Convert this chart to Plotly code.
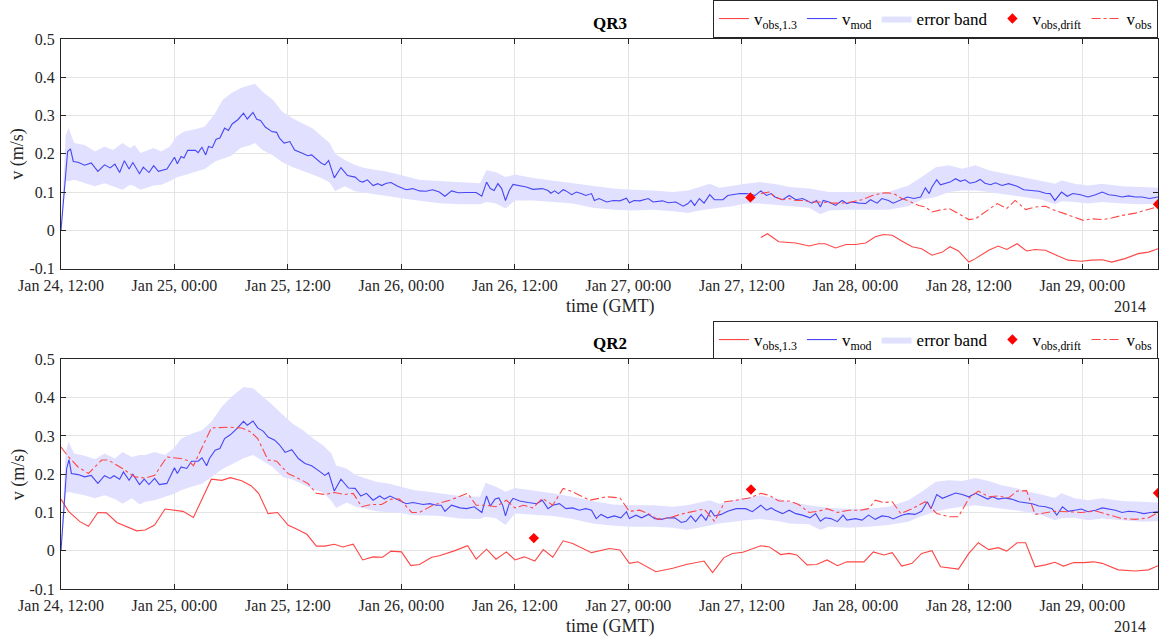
import plotly.graph_objects as go
import pandas as pd

# ---------------- data (hours after 2014-01-24 12:00 GMT, value in m/s) ----------------
START = "2014-01-24 12:00"
END_H = 116.0

QR3_MOD = [(0, 0), (0.7, 0.206), (1.0, 0.213), (1.3, 0.18), (1.8, 0.178), (2.5, 0.17), (3.2, 0.176), (3.9, 0.154),
           (4.6, 0.171), (5.2, 0.163), (5.7, 0.173), (6.2, 0.151), (6.7, 0.182), (7.2, 0.16), (7.6, 0.177), (8.3, 0.148),
           (8.7, 0.165), (9.3, 0.151), (9.8, 0.169), (10.3, 0.154), (11.2, 0.16), (12.0, 0.191), (12.3, 0.174),
           (12.7, 0.193), (13.0, 0.189), (13.4, 0.209), (14.2, 0.209), (14.5, 0.203), (14.9, 0.217), (15.3, 0.197),
           (15.6, 0.219), (16.0, 0.216), (16.4, 0.238), (16.8, 0.241), (17.3, 0.267), (17.7, 0.261), (18.1, 0.278),
           (18.7, 0.289), (19.3, 0.306), (19.7, 0.291), (20.3, 0.308), (20.7, 0.29), (21.1, 0.287), (21.6, 0.27),
           (22.3, 0.258), (22.8, 0.256), (23.1, 0.241), (23.6, 0.228), (24.2, 0.232), (24.7, 0.21), (25.4, 0.203),
           (26.1, 0.195), (26.5, 0.197), (27.0, 0.186), (27.5, 0.176), (27.9, 0.171), (28.3, 0.182), (28.9, 0.137),
           (29.6, 0.164), (30.3, 0.143), (31.1, 0.139), (31.6, 0.128), (31.9, 0.126), (32.4, 0.132), (33.0, 0.117),
           (33.5, 0.122), (33.9, 0.117), (34.4, 0.123), (34.9, 0.125), (35.6, 0.115), (36.5, 0.106), (37.2, 0.109),
           (37.9, 0.103), (38.6, 0.102), (39.3, 0.106), (40.0, 0.1), (40.6, 0.089), (41.3, 0.103), (42.0, 0.098),
           (42.9, 0.099), (43.9, 0.099), (44.5, 0.089), (45.0, 0.126), (45.4, 0.109), (45.8, 0.104), (46.2, 0.122),
           (46.6, 0.109), (47.0, 0.078), (47.4, 0.104), (47.8, 0.12), (48.5, 0.117), (49.2, 0.113), (49.9, 0.107),
           (50.9, 0.109), (51.5, 0.104), (51.8, 0.097), (52.2, 0.103), (52.6, 0.096), (53.1, 0.106), (53.4, 0.103),
           (54.0, 0.093), (54.5, 0.1), (55.0, 0.096), (55.5, 0.091), (56.1, 0.096), (56.4, 0.078), (56.9, 0.083),
           (57.7, 0.074), (58.4, 0.078), (59.1, 0.077), (59.8, 0.084), (60.1, 0.072), (60.6, 0.078), (61.2, 0.077),
           (62.1, 0.083), (62.6, 0.074), (63.6, 0.077), (64.2, 0.072), (65.0, 0.074), (65.8, 0.063), (66.3, 0.07),
           (66.6, 0.078), (67.0, 0.065), (67.5, 0.083), (68.0, 0.071), (68.6, 0.093), (69.1, 0.08), (70.0, 0.08),
           (70.5, 0.091), (71.0, 0.093), (71.8, 0.096), (72.5, 0.096), (73.4, 0.091), (74.0, 0.103), (74.6, 0.091),
           (75.1, 0.096), (75.5, 0.087), (76.3, 0.08), (77.0, 0.091), (77.7, 0.08), (78.4, 0.083), (78.9, 0.077),
           (79.4, 0.071), (79.9, 0.078), (80.3, 0.061), (80.6, 0.078), (81.2, 0.074), (81.9, 0.065), (82.6, 0.078),
           (83.1, 0.07), (83.6, 0.074), (84.4, 0.071), (85.1, 0.07), (85.6, 0.08), (86.3, 0.071), (86.8, 0.083),
           (87.5, 0.078), (88.0, 0.071), (88.8, 0.08), (89.5, 0.087), (90.2, 0.083), (90.9, 0.087), (91.4, 0.111),
           (91.8, 0.096), (92.1, 0.113), (92.6, 0.132), (93.0, 0.119), (93.5, 0.123), (94.0, 0.126), (94.6, 0.135),
           (95.1, 0.128), (95.6, 0.132), (96.1, 0.123), (96.7, 0.126), (97.2, 0.133), (97.7, 0.123), (98.3, 0.119),
           (98.8, 0.124), (99.5, 0.117), (100.2, 0.122), (101.1, 0.115), (101.8, 0.106), (102.5, 0.104),
           (103.4, 0.102), (104.1, 0.097), (104.6, 0.096), (105.1, 0.078), (105.8, 0.1), (106.4, 0.089),
           (107.0, 0.096), (107.8, 0.093), (108.6, 0.087), (109.4, 0.093), (110.1, 0.1), (110.8, 0.093),
           (111.5, 0.091), (112.2, 0.087), (112.9, 0.09), (113.6, 0.087), (114.3, 0.087), (115.1, 0.083), (116.0, 0.087)]

# error band: (hour, lower, upper)
QR3_BAND = [(0, 0, 0), (0.5, 0.13, 0.25), (0.8, 0.128, 0.267), (1.4, 0.132, 0.228), (2.5, 0.123, 0.223),
            (3.6, 0.115, 0.206), (4.6, 0.123, 0.219), (5.5, 0.115, 0.21), (6.5, 0.106, 0.228), (7.3, 0.119, 0.215),
            (7.8, 0.115, 0.223), (8.4, 0.106, 0.202), (9.8, 0.117, 0.215), (10.6, 0.119, 0.206), (11.5, 0.128, 0.219),
            (12.2, 0.138, 0.245), (13.0, 0.143, 0.258), (14.2, 0.152, 0.264), (15.2, 0.16, 0.271), (16.3, 0.18, 0.306),
            (17.1, 0.188, 0.341), (18.0, 0.195, 0.358), (19.0, 0.215, 0.372), (20.0, 0.222, 0.38), (20.5, 0.228, 0.383),
            (21.3, 0.21, 0.363), (22.4, 0.196, 0.341), (23.4, 0.178, 0.31), (24.5, 0.165, 0.293), (25.5, 0.155, 0.28),
            (26.6, 0.146, 0.267), (27.6, 0.136, 0.245), (28.4, 0.125, 0.228), (29.0, 0.102, 0.2), (30.0, 0.115, 0.184),
            (31.1, 0.102, 0.171), (32.1, 0.097, 0.163), (33.2, 0.093, 0.158), (34.4, 0.09, 0.154), (35.5, 0.086, 0.147),
            (36.5, 0.082, 0.14), (37.9, 0.077, 0.132), (40.0, 0.071, 0.129), (42.2, 0.068, 0.126), (44.3, 0.068, 0.123),
            (45.0, 0.074, 0.157), (46.0, 0.07, 0.152), (47.0, 0.057, 0.139), (48.0, 0.078, 0.146), (49.9, 0.078, 0.137),
            (52.0, 0.074, 0.13), (54.1, 0.07, 0.122), (56.2, 0.059, 0.115), (58.4, 0.054, 0.109), (60.5, 0.052, 0.106),
            (62.6, 0.054, 0.104), (64.7, 0.05, 0.1), (66.3, 0.045, 0.104), (67.5, 0.052, 0.113), (68.6, 0.056, 0.122),
            (69.6, 0.059, 0.111), (71.0, 0.063, 0.117), (72.4, 0.07, 0.122), (73.9, 0.07, 0.126), (75.8, 0.065, 0.12),
            (77.0, 0.063, 0.113), (79.1, 0.059, 0.109), (80.3, 0.042, 0.104), (81.2, 0.052, 0.1), (83.3, 0.054, 0.1),
            (85.4, 0.054, 0.097), (87.5, 0.054, 0.1), (89.6, 0.063, 0.117), (91.0, 0.08, 0.139), (92.5, 0.087, 0.165),
            (93.9, 0.1, 0.17), (95.3, 0.104, 0.161), (96.7, 0.104, 0.17), (98.1, 0.1, 0.157), (99.5, 0.096, 0.15),
            (100.9, 0.091, 0.143), (102.3, 0.085, 0.135), (103.7, 0.08, 0.13), (105.1, 0.068, 0.122),
            (105.8, 0.076, 0.13), (107.2, 0.074, 0.122), (108.6, 0.07, 0.117), (110.1, 0.074, 0.122),
            (112.2, 0.07, 0.115), (114.3, 0.068, 0.113), (116.0, 0.07, 0.111)]

QR3_OBS = [(74.0, 0.096), (74.9, 0.1), (75.5, 0.087), (76.3, 0.08), (77.0, 0.083), (77.7, 0.078), (78.4, 0.078),
           (79.4, 0.074), (80.5, 0.074), (81.5, 0.071), (82.6, 0.071), (83.6, 0.074), (84.7, 0.08), (85.8, 0.091),
           (86.8, 0.097), (87.5, 0.098), (88.2, 0.094), (88.9, 0.083), (89.6, 0.077), (90.7, 0.065), (91.4, 0.061),
           (92.1, 0.048), (92.8, 0.052), (93.9, 0.057), (94.6, 0.048), (95.3, 0.039), (96.0, 0.028), (96.7, 0.03),
           (97.7, 0.048), (99.0, 0.07), (100.0, 0.057), (100.9, 0.078), (102.0, 0.054), (103.0, 0.061),
           (104.1, 0.063), (105.1, 0.052), (106.2, 0.043), (107.2, 0.035), (108.1, 0.026), (109.0, 0.03),
           (110.1, 0.028), (111.1, 0.032), (112.2, 0.039), (113.6, 0.045), (115.0, 0.054), (116.0, 0.062)]

QR3_OBS13 = [(74.0, -0.019), (74.7, -0.009), (75.9, -0.03), (77.7, -0.033), (79.1, -0.041), (80.1, -0.035),
             (80.8, -0.035), (81.9, -0.046), (83.0, -0.037), (84.0, -0.037), (85.1, -0.033), (86.1, -0.017),
             (87.0, -0.011), (87.9, -0.013), (88.9, -0.028), (90.0, -0.043), (91.0, -0.048), (92.1, -0.065),
             (93.2, -0.057), (94.0, -0.043), (94.9, -0.054), (96.0, -0.083), (96.7, -0.074), (98.1, -0.052),
             (99.1, -0.041), (100.0, -0.05), (101.1, -0.035), (102.1, -0.054), (103.0, -0.05), (104.1, -0.052),
             (105.5, -0.068), (106.5, -0.078), (107.9, -0.081), (109.0, -0.078), (110.1, -0.077), (111.1, -0.083),
             (112.5, -0.074), (113.9, -0.061), (115.0, -0.057), (116.0, -0.048)]

QR3_DRIFT = [(72.9, 0.086), (116.0, 0.068)]

QR2_MOD = [(0, 0), (0.6, 0.215), (0.85, 0.238), (1.1, 0.202), (1.8, 0.199), (2.5, 0.193), (3.2, 0.197), (3.9, 0.176),
           (4.6, 0.196), (5.2, 0.189), (5.6, 0.196), (6.2, 0.187), (6.6, 0.206), (7.2, 0.184), (7.6, 0.2), (8.3, 0.173),
           (8.8, 0.187), (9.3, 0.173), (9.9, 0.189), (10.4, 0.173), (11.2, 0.176), (12.0, 0.217), (12.3, 0.202),
           (12.7, 0.219), (13.3, 0.215), (13.8, 0.234), (14.5, 0.234), (14.9, 0.243), (15.4, 0.222), (15.7, 0.241),
           (16.3, 0.263), (16.8, 0.267), (17.3, 0.293), (17.9, 0.303), (18.6, 0.319), (19.3, 0.338), (19.7, 0.328),
           (20.3, 0.339), (20.8, 0.321), (21.4, 0.312), (21.9, 0.297), (22.6, 0.289), (23.1, 0.277), (23.7, 0.257),
           (24.4, 0.264), (25.1, 0.241), (25.8, 0.228), (26.5, 0.222), (27.2, 0.21), (27.9, 0.197), (28.3, 0.204),
           (28.9, 0.156), (29.6, 0.187), (30.4, 0.164), (31.1, 0.163), (31.7, 0.143), (32.3, 0.15), (33.0, 0.132),
           (33.7, 0.143), (34.2, 0.135), (34.8, 0.143), (35.5, 0.135), (36.5, 0.123), (37.2, 0.126), (38.3, 0.121),
           (39.0, 0.123), (39.7, 0.119), (40.2, 0.119), (40.6, 0.103), (41.3, 0.119), (42.2, 0.112), (42.9, 0.11),
           (43.7, 0.115), (44.5, 0.1), (45.0, 0.143), (45.4, 0.117), (45.9, 0.135), (46.3, 0.138), (46.7, 0.119),
           (47.0, 0.091), (47.4, 0.123), (47.8, 0.137), (48.5, 0.13), (49.4, 0.126), (50.3, 0.123), (50.9, 0.132),
           (51.5, 0.11), (52.0, 0.119), (52.7, 0.123), (53.4, 0.11), (54.1, 0.112), (54.8, 0.106), (55.5, 0.11),
           (56.1, 0.106), (56.6, 0.084), (57.1, 0.095), (57.8, 0.086), (58.5, 0.091), (59.2, 0.086), (59.8, 0.102),
           (60.1, 0.084), (60.8, 0.093), (61.4, 0.086), (62.1, 0.095), (62.8, 0.084), (63.5, 0.082), (64.2, 0.086),
           (64.9, 0.086), (65.6, 0.074), (66.1, 0.077), (66.6, 0.091), (67.1, 0.076), (67.7, 0.095), (68.2, 0.08),
           (68.7, 0.106), (69.1, 0.091), (69.8, 0.095), (70.5, 0.103), (71.4, 0.11), (72.4, 0.11), (73.1, 0.102),
           (74.0, 0.119), (74.6, 0.106), (75.1, 0.112), (75.5, 0.106), (76.3, 0.097), (77.0, 0.106), (77.7, 0.097),
           (78.4, 0.093), (79.2, 0.086), (79.8, 0.097), (80.3, 0.077), (80.8, 0.086), (81.4, 0.084), (82.1, 0.076),
           (82.7, 0.093), (83.1, 0.08), (84.0, 0.084), (84.7, 0.08), (85.4, 0.093), (86.1, 0.082), (86.8, 0.091),
           (87.5, 0.089), (88.0, 0.083), (88.9, 0.093), (89.6, 0.097), (90.3, 0.095), (91.0, 0.103), (91.6, 0.128),
           (92.0, 0.11), (92.6, 0.147), (93.2, 0.137), (93.9, 0.143), (94.6, 0.151), (95.3, 0.147), (96.0, 0.141),
           (96.7, 0.15), (97.4, 0.143), (98.0, 0.135), (98.5, 0.141), (99.1, 0.135), (99.8, 0.138), (100.5, 0.135),
           (101.3, 0.128), (102.0, 0.126), (102.7, 0.123), (103.4, 0.117), (104.1, 0.115), (104.8, 0.11),
           (105.3, 0.093), (105.9, 0.115), (106.5, 0.103), (107.2, 0.106), (107.9, 0.109), (108.6, 0.102),
           (109.4, 0.106), (110.1, 0.112), (110.8, 0.109), (111.5, 0.106), (112.2, 0.1), (112.9, 0.103),
           (113.6, 0.102), (114.5, 0.097), (115.2, 0.1), (116.0, 0.102)]

QR2_BAND = [(0, 0, 0), (0.5, 0.15, 0.26), (0.8, 0.154, 0.284), (1.4, 0.15, 0.254), (2.5, 0.145, 0.248),
            (3.6, 0.137, 0.239), (4.6, 0.145, 0.254), (5.7, 0.135, 0.241), (6.5, 0.123, 0.258), (7.5, 0.137, 0.245),
            (8.3, 0.121, 0.25), (8.9, 0.128, 0.25), (9.9, 0.132, 0.258), (11.0, 0.14, 0.25), (11.9, 0.148, 0.267),
            (12.7, 0.158, 0.293), (13.8, 0.167, 0.306), (14.9, 0.175, 0.315), (15.9, 0.192, 0.337),
            (17.0, 0.212, 0.376), (18.0, 0.225, 0.402), (19.3, 0.242, 0.428), (20.3, 0.25, 0.425),
            (21.4, 0.234, 0.402), (22.4, 0.218, 0.38), (23.5, 0.192, 0.354), (24.5, 0.186, 0.332),
            (25.6, 0.173, 0.315), (26.7, 0.16, 0.293), (27.7, 0.152, 0.276), (28.6, 0.13, 0.254), (29.1, 0.112, 0.223),
            (30.2, 0.126, 0.215), (31.2, 0.115, 0.197), (32.3, 0.11, 0.189), (33.3, 0.103, 0.18), (34.6, 0.1, 0.176),
            (36.0, 0.098, 0.167), (37.4, 0.093, 0.158), (38.7, 0.092, 0.155), (40.0, 0.091, 0.15), (42.2, 0.084, 0.143),
            (44.3, 0.083, 0.141), (44.9, 0.089, 0.178), (46.0, 0.085, 0.167), (47.0, 0.067, 0.154), (48.0, 0.097, 0.164),
            (49.9, 0.095, 0.158), (52.0, 0.091, 0.15), (54.1, 0.083, 0.141), (56.2, 0.071, 0.13), (58.4, 0.065, 0.121),
            (60.5, 0.063, 0.119), (62.6, 0.063, 0.119), (64.7, 0.06, 0.115), (66.2, 0.054, 0.119), (67.5, 0.06, 0.125),
            (68.6, 0.066, 0.132), (69.6, 0.071, 0.123), (71.0, 0.076, 0.132), (72.4, 0.08, 0.138), (73.9, 0.083, 0.145),
            (75.8, 0.078, 0.136), (77.0, 0.071, 0.128), (79.1, 0.069, 0.119), (80.3, 0.054, 0.115), (81.2, 0.063, 0.112),
            (83.3, 0.06, 0.11), (85.4, 0.063, 0.11), (87.5, 0.067, 0.115), (89.6, 0.076, 0.132), (91.0, 0.091, 0.154),
            (92.5, 0.102, 0.18), (93.9, 0.11, 0.184), (95.3, 0.115, 0.182), (96.7, 0.119, 0.19), (98.1, 0.115, 0.182),
            (99.5, 0.11, 0.171), (100.9, 0.106, 0.164), (102.3, 0.1, 0.154), (103.7, 0.093, 0.147),
            (105.1, 0.08, 0.138), (105.8, 0.085, 0.15), (107.2, 0.086, 0.137), (108.6, 0.08, 0.132),
            (110.1, 0.084, 0.137), (112.2, 0.08, 0.13), (114.3, 0.076, 0.128), (116.0, 0.077, 0.126)]

QR2_OBS = [(0, 0.271), (0.8, 0.245), (1.8, 0.219), (2.9, 0.202), (4.3, 0.237), (5.0, 0.237), (6.5, 0.215),
           (7.8, 0.193), (8.9, 0.19), (9.9, 0.197), (11.2, 0.245), (12.7, 0.241), (13.5, 0.235), (14.0, 0.222),
           (15.9, 0.321), (17.7, 0.323), (19.1, 0.321), (20.1, 0.31), (20.8, 0.293), (21.9, 0.237), (22.8, 0.234),
           (24.0, 0.202), (25.1, 0.189), (26.1, 0.176), (27.0, 0.15), (27.9, 0.147), (28.9, 0.152), (30.0, 0.147),
           (30.9, 0.15), (31.8, 0.115), (32.8, 0.121), (33.9, 0.121), (34.9, 0.135), (35.8, 0.135), (37.1, 0.1),
           (37.9, 0.1), (39.3, 0.119), (41.1, 0.132), (43.0, 0.15), (43.9, 0.119), (45.0, 0.119), (46.0, 0.115),
           (47.1, 0.132), (48.0, 0.112), (48.9, 0.119), (49.9, 0.112), (50.9, 0.137), (52.0, 0.119), (53.1, 0.163),
           (54.1, 0.154), (55.9, 0.132), (57.7, 0.141), (59.1, 0.138), (60.1, 0.103), (61.2, 0.106), (62.1, 0.097),
           (63.1, 0.082), (64.3, 0.086), (65.8, 0.097), (66.8, 0.102), (68.0, 0.109), (69.1, 0.077), (70.2, 0.128),
           (71.4, 0.132), (72.8, 0.138), (74.0, 0.15), (74.9, 0.145), (75.9, 0.13), (77.0, 0.13), (78.0, 0.121),
           (79.1, 0.1), (80.1, 0.103), (81.0, 0.11), (82.1, 0.1), (83.3, 0.106), (84.5, 0.106), (85.4, 0.11),
           (86.1, 0.132), (87.0, 0.126), (87.9, 0.128), (88.8, 0.097), (90.0, 0.11), (91.4, 0.128), (92.6, 0.097),
           (93.9, 0.089), (94.9, 0.089), (96.0, 0.137), (97.0, 0.156), (98.1, 0.141), (99.1, 0.143), (100.2, 0.138),
           (101.1, 0.156), (102.1, 0.157), (103.0, 0.095), (104.1, 0.1), (105.1, 0.103), (106.5, 0.102),
           (107.9, 0.1), (109.4, 0.104), (110.8, 0.093), (112.2, 0.084), (113.6, 0.082), (115.0, 0.086), (116.0, 0.1)]

QR2_OBS13 = [(0, 0.135), (0.8, 0.103), (2.0, 0.076), (2.9, 0.064), (3.9, 0.1), (4.8, 0.099), (5.9, 0.074),
             (6.9, 0.063), (8.0, 0.052), (8.9, 0.054), (9.9, 0.067), (11.0, 0.109), (12.9, 0.103), (14.0, 0.087),
             (15.9, 0.187), (17.0, 0.184), (17.9, 0.191), (19.1, 0.183), (20.1, 0.17), (20.9, 0.15), (21.9, 0.097),
             (22.9, 0.1), (24.0, 0.067), (24.9, 0.057), (26.0, 0.043), (27.0, 0.012), (27.9, 0.012), (28.9, 0.017),
             (29.8, 0.01), (30.9, 0.017), (31.9, -0.024), (33.0, -0.016), (34.0, -0.017), (34.9, -0.001),
             (36.0, -0.003), (37.0, -0.039), (37.9, -0.036), (39.2, -0.017), (40.0, -0.013), (41.5, -0.001),
             (43.0, 0.013), (43.9, -0.022), (45.0, 0.004), (46.0, -0.022), (47.1, -0.003), (48.0, -0.024),
             (49.0, -0.016), (50.1, -0.027), (51.0, 0.003), (52.0, -0.017), (53.1, 0.026), (54.1, 0.019),
             (56.1, -0.005), (58.0, 0.006), (59.1, 0.002), (60.1, -0.033), (61.0, -0.029), (62.9, -0.055),
             (64.7, -0.046), (66.1, -0.036), (68.0, -0.027), (68.9, -0.057), (70.1, -0.018), (71.0, -0.007),
             (72.1, -0.004), (74.0, 0.013), (74.9, 0.01), (76.1, -0.01), (77.0, -0.007), (77.8, -0.011),
             (78.9, -0.037), (79.9, -0.036), (81.0, -0.024), (82.1, -0.039), (83.1, -0.029), (84.9, -0.029),
             (85.9, -0.003), (87.0, -0.011), (87.9, -0.005), (88.9, -0.04), (90.0, -0.033), (91.0, -0.007),
             (92.1, 0.0), (93.0, -0.042), (94.9, -0.048), (96.0, -0.007), (97.0, 0.021), (98.1, 0.003), (99.1, 0.008),
             (100.0, -0.001), (101.1, 0.021), (102.0, 0.021), (103.0, -0.042), (104.1, -0.037), (105.1, -0.03),
             (106.0, -0.04), (107.1, -0.031), (108.1, -0.031), (109.2, -0.029), (110.1, -0.033), (111.8, -0.05),
             (113.6, -0.053), (115.0, -0.05), (116.0, -0.039)]

QR2_DRIFT = [(50.0, 0.033), (72.96, 0.16), (116.0, 0.151)]

Y_TICKS = [-0.1, 0, 0.1, 0.2, 0.3, 0.4, 0.5]
Y_TICKTEXT = ["-0.1", "0", "0.1", "0.2", "0.3", "0.4", "0.5"]
PANELS = ["QR3", "QR2"]
YEAR_LABEL = "2014"

# ---------------- helpers ----------------
T0 = pd.Timestamp(START)


def times(hours):
    return [T0 + pd.Timedelta(hours=h) for h in hours]


def unzip(pairs):
    return [p[0] for p in pairs], [p[1] for p in pairs]


FONT = "Liberation Serif"
AXC = "#262626"
BLUE = "rgb(70,70,245)"
RED = "rgb(255,70,70)"
BANDC = "rgb(225,225,255)"

fig = go.Figure()

panels = [
    dict(mod=QR3_MOD, band=QR3_BAND, obs=QR3_OBS, obs13=QR3_OBS13, drift=QR3_DRIFT, xa="x", ya="y", lg="legend"),
    dict(mod=QR2_MOD, band=QR2_BAND, obs=QR2_OBS, obs13=QR2_OBS13, drift=QR2_DRIFT, xa="x2", ya="y2", lg="legend2"),
]

for p in panels:
    bh = [b[0] for b in p["band"]]
    blo = [b[1] for b in p["band"]]
    bhi = [b[2] for b in p["band"]]
    fig.add_trace(go.Scatter(x=times(bh) + times(bh[::-1]), y=bhi + blo[::-1], fill="toself",
                             fillcolor=BANDC, line=dict(width=0), mode="lines", name="error band",
                             legendrank=3, xaxis=p["xa"], yaxis=p["ya"], legend=p["lg"], hoverinfo="skip"))
    h, v = unzip(p["obs13"])
    fig.add_trace(go.Scatter(x=times(h), y=v, mode="lines", line=dict(color=RED, width=1.1),
                             name="v<sub>obs,1.3</sub>", legendrank=1, xaxis=p["xa"], yaxis=p["ya"], legend=p["lg"]))
    h, v = unzip(p["mod"])
    fig.add_trace(go.Scatter(x=times(h), y=v, mode="lines", line=dict(color=BLUE, width=1.1),
                             name="v<sub>mod</sub>", legendrank=2, xaxis=p["xa"], yaxis=p["ya"], legend=p["lg"]))
    h, v = unzip(p["obs"])
    fig.add_trace(go.Scatter(x=times(h), y=v, mode="lines", line=dict(color=RED, width=1.1, dash="dashdot"),
                             name="v<sub>obs</sub>", legendrank=5, xaxis=p["xa"], yaxis=p["ya"], legend=p["lg"]))
    h, v = unzip(p["drift"])
    fig.add_trace(go.Scatter(x=times(h), y=v, mode="markers", cliponaxis=True,
                             marker=dict(symbol="diamond", size=8, color="red"),
                             name="v<sub>obs,drift</sub>", legendrank=4, xaxis=p["xa"], yaxis=p["ya"],
                             legend=p["lg"]))

xr = [T0, T0 + pd.Timedelta(hours=END_H)]
common_x = dict(range=xr, type="date", tick0=T0, dtick=12 * 3600 * 1000, tickformat="%b %d, %H:%M",
                showgrid=True, gridcolor="#e4e4e4", gridwidth=1, showline=True, linecolor=AXC, linewidth=1,
                mirror="ticks", ticks="inside", ticklen=5, tickcolor=AXC, ticklabelstandoff=2,
                tickfont=dict(family=FONT, size=16, color=AXC), zeroline=False)
common_y = dict(range=[-0.1, 0.5], tickvals=Y_TICKS, ticktext=Y_TICKTEXT, showgrid=True, gridcolor="#e4e4e4",
                showline=True, linecolor=AXC, linewidth=1, mirror="ticks", ticks="inside", ticklen=5,
                tickcolor=AXC, ticklabelstandoff=2, tickfont=dict(family=FONT, size=16, color=AXC), zeroline=False)

top_dom = [0.5826, 1.0]
bot_dom = [0.0, 0.4174]

legend_common = dict(orientation="h", xanchor="right", x=1.0, yanchor="bottom", bordercolor=AXC, borderwidth=1,
                     bgcolor="white", font=dict(family=FONT, size=17, color="#000"), itemwidth=30,
                     traceorder="normal", tracegroupgap=0)

annotations = []
for name, dom in zip(PANELS, [top_dom, bot_dom]):
    annotations.append(dict(text="<b>" + name + "</b>", x=0.5, y=dom[1] + 16 / 551, xref="paper", yref="paper",
                            showarrow=False, font=dict(family=FONT, size=17, color="#000"),
                            xanchor="center", yanchor="middle"))
    annotations.append(dict(text="time (GMT)", x=0.5, y=dom[0] - 38 / 551, xref="paper", yref="paper",
                            showarrow=False, font=dict(family=FONT, size=18, color=AXC),
                            xanchor="center", yanchor="middle"))
    annotations.append(dict(text=YEAR_LABEL, x=(1130 - 61) / 1097, y=dom[0] - 38 / 551, xref="paper",
                            yref="paper", showarrow=False, font=dict(family=FONT, size=16, color=AXC),
                            xanchor="center", yanchor="middle"))
    annotations.append(dict(text="v (m/s)", x=-43 / 1097, y=(dom[0] + dom[1]) / 2, xref="paper", yref="paper",
                            showarrow=False, textangle=-90, font=dict(family=FONT, size=18, color=AXC),
                            xanchor="center", yanchor="middle"))

fig.update_layout(
    width=1159, height=641,
    margin=dict(l=61, r=1, t=38, b=52),
    paper_bgcolor="white", plot_bgcolor="white",
    font=dict(family=FONT, color=AXC),
    xaxis=dict(domain=[0, 1], anchor="y", **common_x),
    yaxis=dict(domain=top_dom, anchor="x", **common_y),
    xaxis2=dict(domain=[0, 1], anchor="y2", **common_x),
    yaxis2=dict(domain=bot_dom, anchor="x2", **common_y),
    legend=dict(y=top_dom[1], **legend_common),
    legend2=dict(y=bot_dom[1], **legend_common),
    annotations=annotations,
    showlegend=True,
)

fig.write_html("out.html", config={"displayModeBar": False},
               post_script="document.body.style.margin='0px';document.body.style.overflow='hidden';")
